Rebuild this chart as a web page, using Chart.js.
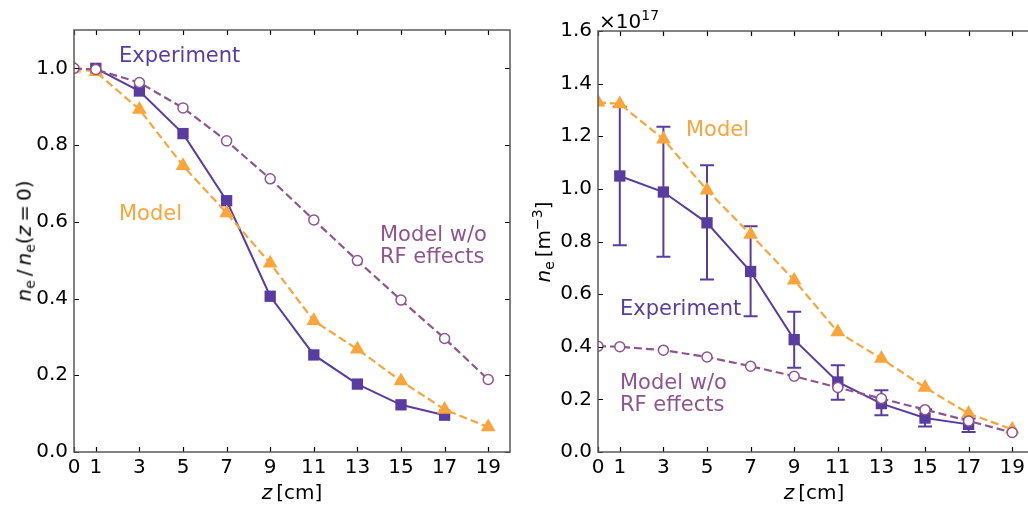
<!DOCTYPE html>
<html>
<head>
<meta charset="utf-8">
<script src="https://cdn.jsdelivr.net/npm/chart.js@4"></script>
<style>
  html, body { margin: 0; padding: 0; background: #fff; overflow: hidden; }
  body { width: 1028px; height: 508px; position: relative; font-family: "DejaVu Sans", sans-serif; }
  canvas { position: absolute; top: 0; }
  #c1 { left: 0; }
  #c2 { left: 520px; }
  .lbl { position: absolute; white-space: nowrap; font-size: 20px; line-height: 1; color: #000; }
  .mid { transform: translate(-50%, -50%); }
  .rot { transform: translate(-50%, -50%) rotate(-90deg); }
  .note { position: absolute; white-space: nowrap; font-size: 21px; line-height: 1; transform: translateY(-50%); }
  sub { font-size: 0.7em; vertical-align: -0.25em; }
  sup { font-size: 0.7em; vertical-align: 0.55em; }
</style>
</head>
<body>
<canvas id="c1" width="520" height="508"></canvas>
<canvas id="c2" width="524" height="508"></canvas>

<div class="lbl rot" style="left:25px; top:241px;"><i>n</i><sub>e</sub>&#8201;/&#8201;<i>n</i><sub>e</sub>(<i>z</i>&#8201;=&#8201;0)</div>
<div class="lbl mid" style="left:292px; top:492px;"><i>z</i>&#8201;[cm]</div>
<div class="lbl rot" style="left:543px; top:242px;"><i>n</i><sub>e</sub>&#8201;[m<sup>&minus;3</sup>]</div>
<div class="lbl mid" style="left:814px; top:492px;"><i>z</i>&#8201;[cm]</div>
<div class="lbl" style="left:599px; top:8px; font-size:20px;">&times;10<sup>17</sup></div>

<div class="note" style="left:119px; top:55px; color:rgb(88,60,160);">Experiment</div>
<div class="note" style="left:119px; top:213px; color:rgb(250,164,58);">Model</div>
<div class="note" style="left:380px; top:234px; color:rgb(142,84,145);">Model w/o</div>
<div class="note" style="left:380px; top:256px; color:rgb(142,84,145);">RF effects</div>

<div class="note" style="left:686px; top:129px; color:rgb(250,164,58);">Model</div>
<div class="note" style="left:620px; top:308px; color:rgb(88,60,160);">Experiment</div>
<div class="note" style="left:620px; top:382px; color:rgb(142,84,145);">Model w/o</div>
<div class="note" style="left:620px; top:404px; color:rgb(142,84,145);">RF effects</div>

<script>
// axial positions [cm]
const zExp = [1, 3, 5, 7, 9, 11, 13, 15, 17];
const zModel = [0, 1, 3, 5, 7, 9, 11, 13, 15, 17, 19];
const zTicks = [0, 1, 3, 5, 7, 9, 11, 13, 15, 17, 19];

// left: normalised density
const expNorm = [1.0, 0.941, 0.830, 0.655, 0.406, 0.253, 0.177, 0.123, 0.096];
const modelNorm = [1.0, 0.991, 0.893, 0.746, 0.623, 0.492, 0.342, 0.268, 0.185, 0.111, 0.065];
const noRfNorm = [1.0, 0.997, 0.963, 0.897, 0.811, 0.712, 0.605, 0.499, 0.396, 0.296, 0.189];
const normTicks = [0, 0.2, 0.4, 0.6, 0.8, 1.0];

// right: absolute density, x1e17 m^-3
const expAbs = [1.049, 0.988, 0.871, 0.686, 0.427, 0.266, 0.184, 0.129, 0.105];
const expAbsHi = [1.312, 1.236, 1.090, 0.858, 0.533, 0.330, 0.235, 0.162, 0.127];
const expAbsLo = [0.786, 0.742, 0.656, 0.516, 0.320, 0.199, 0.140, 0.097, 0.076];
const modelAbs = [1.329, 1.323, 1.189, 0.995, 0.827, 0.653, 0.456, 0.355, 0.245, 0.146, 0.086];
const noRfAbs = [0.402, 0.400, 0.387, 0.361, 0.326, 0.288, 0.245, 0.203, 0.161, 0.118, 0.074];
const absTicks = [0, 0.2, 0.4, 0.6, 0.8, 1.0, 1.2, 1.4, 1.6];

const C_EXP = 'rgb(88,60,160)';
const C_MOD = 'rgb(250,164,58)';
const C_NORF = 'rgb(142,84,145)';
const FONT = { family: 'DejaVu Sans', size: 20 };

function pts(xs, ys) {
  return xs.map((x, i) => ({ x, y: ys[i] }));
}

// frame with inward ticks on all four sides
const framePlugin = {
  id: 'frame',
  afterDraw(chart) {
    const { ctx, chartArea: a, scales: { x, y } } = chart;
    ctx.save();
    ctx.strokeStyle = '#000';
    ctx.lineWidth = 1.2;
    ctx.beginPath();
    for (const t of x.ticks) {
      const px = Math.round(x.getPixelForValue(t.value)) + 0.5;
      ctx.moveTo(px, a.bottom); ctx.lineTo(px, a.bottom - 5);
      ctx.moveTo(px, a.top); ctx.lineTo(px, a.top + 5);
    }
    for (const t of y.ticks) {
      const py = Math.round(y.getPixelForValue(t.value)) + 0.5;
      ctx.moveTo(a.left, py); ctx.lineTo(a.left + 5, py);
      ctx.moveTo(a.right, py); ctx.lineTo(a.right - 5, py);
    }
    ctx.stroke();
    ctx.strokeStyle = '#5a5a5a';
    ctx.lineWidth = 1.5;
    ctx.strokeRect(a.left, a.top, a.right - a.left, a.bottom - a.top);
    ctx.restore();
  }
};

// vertical error bars for the experiment series
const errorPlugin = {
  id: 'errbars',
  beforeDatasetsDraw(chart, args, opts) {
    if (!opts.lo) return;
    const { ctx, scales: { x, y } } = chart;
    ctx.save();
    ctx.strokeStyle = C_EXP;
    ctx.lineWidth = 2;
    ctx.beginPath();
    opts.xs.forEach((v, i) => {
      const px = x.getPixelForValue(v);
      const top = y.getPixelForValue(opts.hi[i]);
      const bot = y.getPixelForValue(opts.lo[i]);
      ctx.moveTo(px, top); ctx.lineTo(px, bot);
      ctx.moveTo(px - 7, top); ctx.lineTo(px + 7, top);
      ctx.moveTo(px - 7, bot); ctx.lineTo(px + 7, bot);
    });
    ctx.stroke();
    ctx.restore();
  }
};

function makeChart(el, exp, model, noRf, yMax, yTicks, yWidth, top, err) {
  return new Chart(el, {
    type: 'line',
    data: {
      datasets: [
        { label: 'Experiment', data: pts(zExp, exp), borderColor: C_EXP, backgroundColor: C_EXP,
          borderWidth: 2, pointStyle: 'rect', pointRadius: 8, pointBorderWidth: 0, order: 3, clip: 0 },
        { label: 'Model', data: pts(zModel, model), borderColor: C_MOD, backgroundColor: C_MOD,
          borderWidth: 2.2, borderDash: [8, 4], pointStyle: 'triangle', pointRadius: 8.5, pointBorderWidth: 0, order: 2, clip: 0 },
        { label: 'Model w/o RF effects', data: pts(zModel, noRf), borderColor: C_NORF, backgroundColor: '#fff',
          borderWidth: 2.2, borderDash: [8, 4], pointStyle: 'circle', pointRadius: 5, pointBorderWidth: 1.5, order: 1, clip: 0 }
      ]
    },
    options: {
      responsive: false,
      animation: false,
      events: [],
      layout: { padding: { left: 0, right: 10, top: top, bottom: 0 } },
      plugins: { legend: { display: false }, tooltip: { enabled: false }, errbars: err || {} },
      scales: {
        x: {
          type: 'linear', min: 0, max: 20,
          grid: { display: false, drawTicks: false }, border: { display: false },
          afterBuildTicks: s => { s.ticks = zTicks.map(v => ({ value: v })); },
          afterFit: s => { s.height = 56; },
          ticks: { font: FONT, color: '#000', padding: 4, maxRotation: 0, autoSkip: false, callback: v => String(v) }
        },
        y: {
          type: 'linear', min: 0, max: yMax,
          grid: { display: false, drawTicks: false }, border: { display: false },
          afterBuildTicks: s => { s.ticks = yTicks.map(v => ({ value: v })); },
          afterFit: s => { s.width = yWidth; },
          ticks: { font: FONT, color: '#000', padding: 6, callback: v => v.toFixed(1) }
        }
      }
    },
    plugins: [framePlugin, errorPlugin]
  });
}

makeChart(document.getElementById('c1'), expNorm, modelNorm, noRfNorm, 1.1, normTicks, 74, 30, null);
makeChart(document.getElementById('c2'), expAbs, modelAbs, noRfAbs, 1.6, absTicks, 78, 31,
  { xs: zExp, lo: expAbsLo, hi: expAbsHi });
</script>
</body>
</html>
